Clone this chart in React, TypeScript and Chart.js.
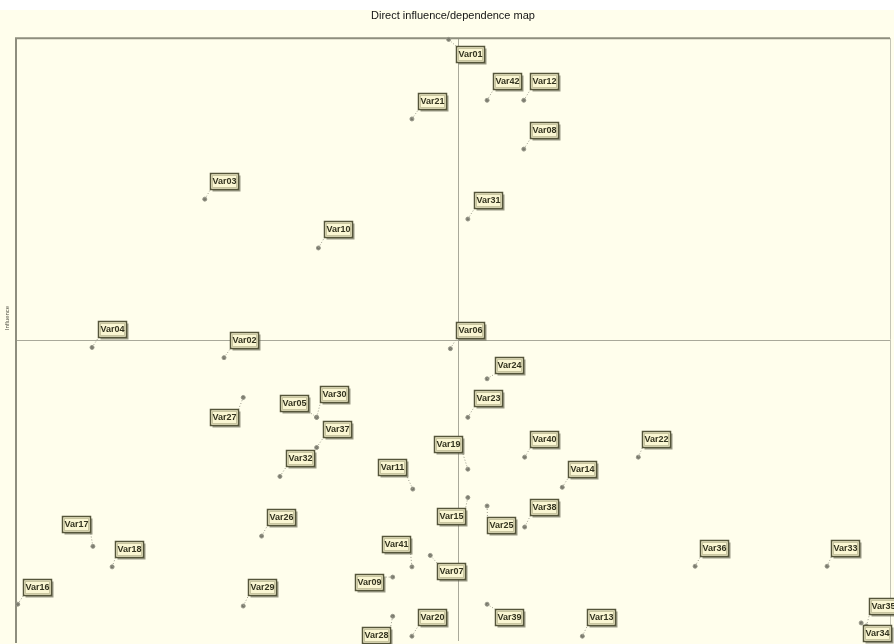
import React, { useEffect, useRef } from "react";
import { Chart, registerables } from "chart.js";

Chart.register(...registerables);

// ---- data (dependence = x, influence = y) ----
const variables = [
  "Var01", "Var42", "Var12", "Var21", "Var08", "Var03", "Var31", "Var10",
  "Var04", "Var02", "Var06", "Var24", "Var23", "Var27", "Var05", "Var30",
  "Var37", "Var32", "Var19", "Var11", "Var40", "Var14", "Var22", "Var15",
  "Var38", "Var25", "Var26", "Var17", "Var18", "Var41", "Var07", "Var36",
  "Var33", "Var09", "Var16", "Var29", "Var20", "Var28", "Var39", "Var13",
  "Var35", "Var34",
];
const dependence = [
  49.5, 53.9, 58.1, 45.3, 58.1, 21.6, 51.7, 34.6,
  8.7, 23.8, 49.7, 53.9, 51.7, 26.0, 34.4, 34.4,
  34.4, 30.2, 51.7, 45.4, 58.2, 62.5, 71.2, 51.7,
  58.2, 53.9, 28.1, 8.8, 11.0, 45.3, 47.4, 77.7,
  92.8, 43.1, 0.2, 26.0, 45.3, 43.1, 53.9, 64.8,
  97.3, 96.7,
];
const influence = [
  99.8, 89.7, 89.7, 86.6, 81.6, 73.3, 70.0, 65.2,
  48.7, 47.0, 48.5, 43.5, 37.1, 40.4, 37.1, 37.1,
  32.1, 27.3, 28.5, 25.2, 30.5, 25.5, 30.5, 23.8,
  18.9, 22.4, 17.4, 15.7, 12.3, 12.3, 14.2, 12.4,
  12.4, 10.6, 6.1, 5.8, 0.8, 4.1, 6.1, 0.8,
  2.5, 3.0,
];
const meanDependence = 50.6;
const meanInfluence = 50.0;
const titleText = "Direct influence/dependence map";
const yAxisText = "Influence";

// label box placement (pixel offsets of box top-left from the point)
const labelOffsets: [number, number][] = [
  [7, 7], [6, -27], [6, -27], [6, -26], [6, -27], [5, -26], [6, -27], [6, -27],
  [6, -26], [6, -26], [6, -27], [8, -22], [6, -27], [-33, 12], [-37, -22], [3, -31],
  [6, -27], [6, -26], [-34, -33], [-35, -30], [5, -26], [6, -26], [4, -26], [-31, 10],
  [5, -28], [0, 11], [5, -27], [-31, -30], [3, -26], [-30, -31], [7, 8], [5, -26],
  [4, -26], [-38, -3], [5, -25], [5, -27], [6, -27], [-31, 11], [8, 5], [5, -27],
  [3, -28], [2, 2],
];

const CREAM = "#FFFEEC";
const NARROW = "'Liberation Sans Narrow', 'Liberation Sans', Arial, sans-serif";

const mapPlugin = {
  id: "mapPlugin",
  beforeDraw(chart: any) {
    const { ctx, width, height } = chart;
    ctx.save();
    ctx.fillStyle = "#FFFFFF";
    ctx.fillRect(0, 0, width, height);
    ctx.fillStyle = CREAM;
    ctx.fillRect(0, 10, width, height - 10);
    ctx.restore();
  },
  beforeDatasetsDraw(chart: any) {
    const { ctx, chartArea: a, scales } = chart;
    const mx = Math.round(scales.x.getPixelForValue(meanDependence)) + 0.5;
    const my = Math.round(scales.y.getPixelForValue(meanInfluence)) + 0.5;
    ctx.save();
    ctx.strokeStyle = "#A9A99A";
    ctx.lineWidth = 1;
    ctx.beginPath();
    ctx.moveTo(mx, a.top);
    ctx.lineTo(mx, a.bottom);
    ctx.moveTo(a.left, my);
    ctx.lineTo(a.right, my);
    ctx.stroke();
    // frame
    ctx.strokeStyle = "#8E8E7E";
    ctx.lineWidth = 2;
    ctx.beginPath();
    ctx.moveTo(a.left, a.bottom + 2);
    ctx.lineTo(a.left, a.top);
    ctx.lineTo(a.right, a.top);
    ctx.stroke();
    ctx.lineWidth = 1;
    ctx.strokeStyle = "#C4C4B4";
    ctx.beginPath();
    ctx.moveTo(a.right + 0.5, a.top);
    ctx.lineTo(a.right + 0.5, a.bottom);
    ctx.stroke();
    ctx.restore();
  },
  afterDatasetsDraw(chart: any) {
    const { ctx } = chart;
    const meta = chart.getDatasetMeta(0);
    const bw = 28;
    const bh = 16;
    ctx.save();
    meta.data.forEach((pt: any, i: number) => {
      const px = pt.x;
      const py = pt.y;
      const [dx, dy] = labelOffsets[i];
      const bx = Math.round(px + dx) + 0.5;
      const by = Math.round(py + dy) + 0.5;
      // connector
      const cx = Math.max(bx, Math.min(px, bx + bw));
      const cy = Math.max(by, Math.min(py, by + bh));
      ctx.setLineDash([1, 2]);
      ctx.strokeStyle = "#9C9C8C";
      ctx.lineWidth = 1;
      ctx.beginPath();
      ctx.moveTo(px, py);
      ctx.lineTo(cx, cy);
      ctx.stroke();
      ctx.setLineDash([]);
      // shadow
      ctx.fillStyle = "rgba(90,90,70,0.6)";
      ctx.fillRect(bx + 2, by + 2, bw, bh);
      // box
      ctx.fillStyle = "#FAF6D2";
      ctx.fillRect(bx, by, bw, bh);
      ctx.strokeStyle = "#55553A";
      ctx.lineWidth = 1.5;
      ctx.strokeRect(bx, by, bw, bh);
      // inner frame
      ctx.strokeStyle = "#C9C6A0";
      ctx.lineWidth = 1;
      ctx.strokeRect(bx + 2, by + 2, bw - 4, bh - 4);
      ctx.fillStyle = "#33331F";
      ctx.font = `bold 9px ${NARROW}`;
      ctx.textAlign = "center";
      ctx.textBaseline = "middle";
      ctx.fillText(variables[i], bx + bw / 2, by + bh / 2 + 0.5);
    });
    ctx.restore();
  },
  afterDraw(chart: any) {
    const { ctx } = chart;
    ctx.save();
    ctx.translate(7, 318);
    ctx.rotate(-Math.PI / 2);
    ctx.fillStyle = "#555548";
    ctx.font = `6px ${NARROW}`;
    ctx.textAlign = "center";
    ctx.textBaseline = "middle";
    ctx.fillText(yAxisText, 0, 0);
    ctx.restore();
  },
};

export default function App() {
  const ref = useRef<HTMLCanvasElement | null>(null);

  useEffect(() => {
    const canvas = ref.current;
    if (!canvas) return;
    const points = variables.map((_, i) => ({ x: dependence[i], y: influence[i] }));
    const chart = new Chart(canvas, {
      type: "scatter",
      data: {
        datasets: [
          {
            label: "Variables",
            data: points,
            pointRadius: 2,
            pointHoverRadius: 2,
            pointBackgroundColor: "#77776A",
            pointBorderColor: "#9A9A8C",
            pointBorderWidth: 1,
            clip: false as any,
          },
        ],
      },
      options: {
        animation: false,
        responsive: false,
        devicePixelRatio: 1,
        layout: { padding: { left: 16, right: 4, top: 0, bottom: 2 } },
        scales: {
          x: { type: "linear", min: 0, max: 100, display: false },
          y: { type: "linear", min: 0, max: 100, display: false },
        },
        plugins: {
          legend: { display: false },
          tooltip: { enabled: false },
          title: {
            display: true,
            text: titleText,
            color: "#141414",
            font: { family: NARROW, size: 11, weight: "normal" },
            padding: { top: 9, bottom: 16 },
          },
        },
      },
      plugins: [mapPlugin],
    });
    return () => chart.destroy();
  }, []);

  return (
    <div style={{ position: "fixed", left: 0, top: 0, width: 894, height: 644 }}>
      <canvas ref={ref} width={894} height={644} />
    </div>
  );
}
